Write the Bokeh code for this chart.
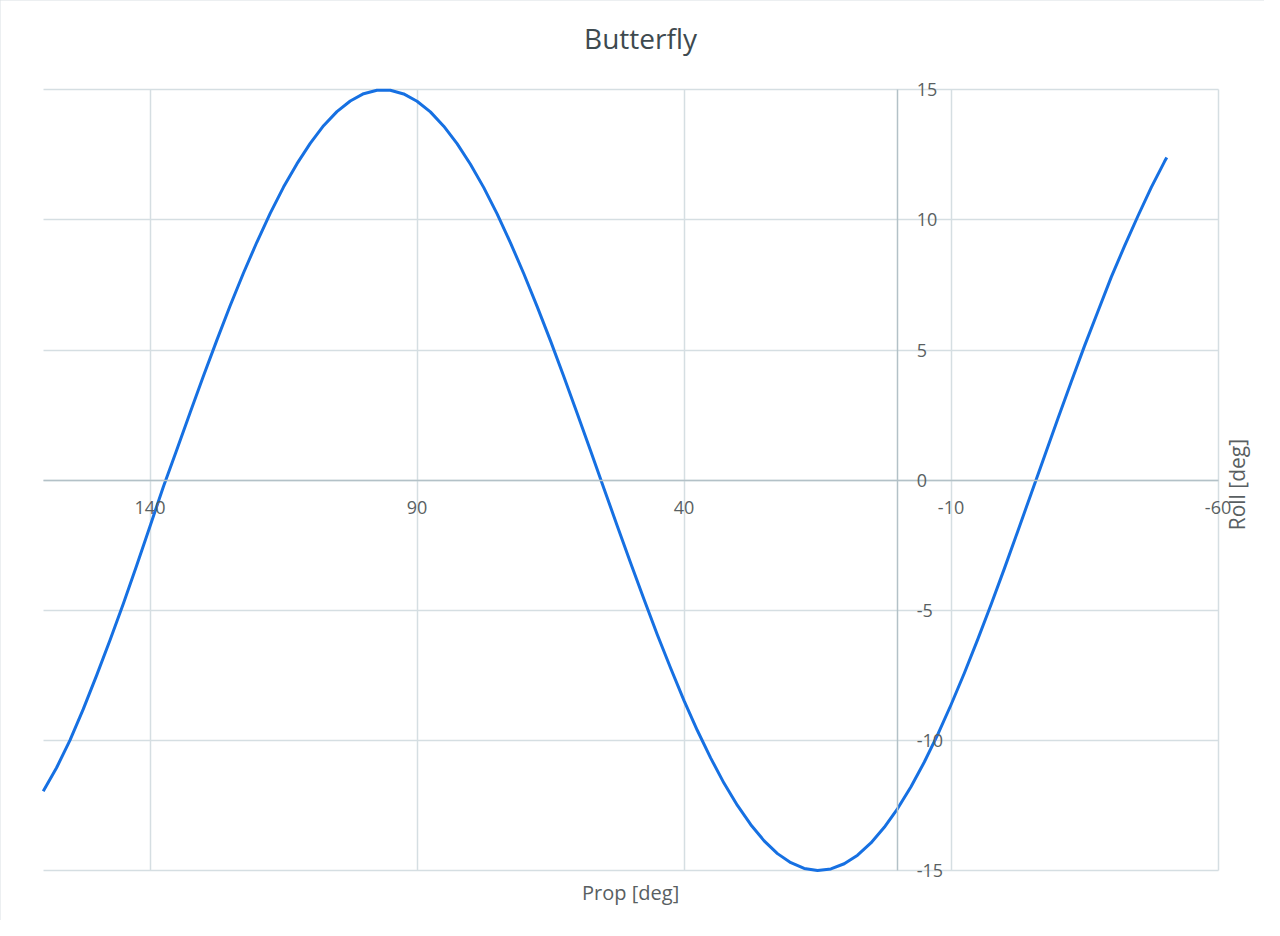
from math import pi
from bokeh.plotting import figure
from bokeh.models import LinearAxis, FixedTicker, Grid, Label, Range1d, ColumnDataSource
from bokeh.embed import file_html
from bokeh.resources import INLINE

# ---- data ----
title_text = "Butterfly"
x_label = "Prop [deg]"
y_label = "Roll [deg]"

prop_deg = [160, 157.5, 155, 152.5, 150, 147.5, 145, 142.5, 140, 137.5,
            135, 132.5, 130, 127.5, 125, 122.5, 120, 117.5, 115, 112.5,
            110, 107.5, 105, 102.5, 100, 97.5, 95, 92.5, 90, 87.5,
            85, 82.5, 80, 77.5, 75, 72.5, 70, 67.5, 65, 62.5,
            60, 57.5, 55, 52.5, 50, 47.5, 45, 42.5, 40, 37.5,
            35, 32.5, 30, 27.5, 25, 22.5, 20, 17.5, 15, 12.5,
            10, 7.5, 5, 2.5, 0, -2.5, -5, -7.5, -10, -12.5,
            -15, -17.5, -20, -22.5, -25, -27.5, -30, -32.5, -35, -37.5,
            -40, -42.5, -45, -47.5, -50, -50.4]
roll_deg = [-11.95, -11.05, -10.0, -8.8, -7.5, -6.15, -4.75, -3.28, -1.77, -0.25,
            1.16, 2.59, 4.0, 5.37, 6.7, 7.96, 9.14, 10.25, 11.26, 12.15,
            12.94, 13.62, 14.16, 14.57, 14.85, 14.98, 14.98, 14.84, 14.56, 14.15,
            13.6, 12.93, 12.14, 11.24, 10.23, 9.12, 7.93, 6.67, 5.35, 3.97,
            2.56, 1.13, -0.32, -1.76, -3.18, -4.58, -5.94, -7.23, -8.47, -9.62,
            -10.68, -11.65, -12.5, -13.24, -13.86, -14.35, -14.7, -14.92, -15.0, -14.94,
            -14.74, -14.41, -13.94, -13.34, -12.62, -11.78, -10.83, -9.78, -8.63, -7.41,
            -6.12, -4.78, -3.39, -1.96, -0.52, 0.92, 2.36, 3.77, 5.16, 6.48,
            7.8, 9.0, 10.15, 11.25, 12.25, 12.4]

x_ticks = [140, 90, 40, -10, -60]
y_ticks = [-15, -10, -5, 0, 5, 10, 15]
x_bounds = (-60, 160)
y_bounds = (-15, 15)

FONT = "Open Sans"
GRID = "#d5dee2"
AXIS = "#b3c1c7"
TICK_TXT = "#595f62"
TITLE_TXT = "#3e4a4f"
LINE = "#1670e2"

# frame covers the whole canvas; the data region sits inside it like the original chart
p = figure(width=1264, height=920,
           x_range=Range1d(168.0, -68.7), y_range=Range1d(-16.92, 18.43),
           x_axis_location=None, y_axis_location=None, title_location=None,
           toolbar_location=None, output_backend="svg",
           min_border_left=0, min_border_right=0,
           min_border_top=0, min_border_bottom=0)
p.center = [r for r in p.center if not isinstance(r, Grid)]
p.outline_line_color = None
p.background_fill_color = "white"
p.border_fill_color = "white"
p.styles = {"outline": "1px solid #d9dfe2", "outline-offset": "-1px"}

# grid lines limited to the data region
if "cross_bounds" in Grid.properties():
    xgrid = Grid(dimension=0, ticker=FixedTicker(ticks=x_ticks), cross_bounds=y_bounds,
                 grid_line_color=GRID, grid_line_width=1.5)
    ygrid = Grid(dimension=1, ticker=FixedTicker(ticks=y_ticks), cross_bounds=x_bounds,
                 grid_line_color=GRID, grid_line_width=1.5)
    p.add_layout(xgrid)
    p.add_layout(ygrid)
else:
    p.segment(x0=x_ticks, y0=[y_bounds[0]] * len(x_ticks), x1=x_ticks,
              y1=[y_bounds[1]] * len(x_ticks), line_color=GRID, line_width=1.5)
    p.segment(x0=[x_bounds[0]] * len(y_ticks), y0=y_ticks,
              x1=[x_bounds[1]] * len(y_ticks), y1=y_ticks, line_color=GRID, line_width=1.5)

# axes crossing at zero
xaxis = LinearAxis(fixed_location=0, ticker=FixedTicker(ticks=x_ticks), bounds=x_bounds,
                   major_label_overrides={t: str(t) for t in x_ticks})
yaxis = LinearAxis(fixed_location=0, ticker=FixedTicker(ticks=y_ticks), bounds=y_bounds,
                   major_label_overrides={t: str(t) for t in y_ticks})
for ax in (xaxis, yaxis):
    ax.axis_line_color = AXIS
    ax.axis_line_width = 1.5
    ax.major_tick_line_color = None
    ax.minor_tick_line_color = None
    ax.major_tick_in = 0
    ax.major_tick_out = 0
    ax.major_label_text_font = FONT
    ax.major_label_text_font_size = "18px"
    ax.major_label_text_color = TICK_TXT
xaxis.major_label_standoff = 21
yaxis.major_label_standoff = 19
p.add_layout(xaxis, "below")
p.add_layout(yaxis, "right")

# curve
src = ColumnDataSource(data=dict(x=prop_deg, y=roll_deg))
p.line("x", "y", source=src, line_color=LINE, line_width=3, line_join="round")

# texts
t1 = Label(x=48.15, y=16.97, text=title_text, text_align="center",
           text_baseline="alphabetic", text_font=FONT, text_font_size="28px",
           text_color=TITLE_TXT)
t2 = Label(x=50.0, y=-15.84, text=x_label, text_align="center",
           text_baseline="alphabetic", text_font=FONT, text_font_size="20px",
           text_color=TICK_TXT)
t3 = Label(x=-63.46, y=-0.17, text=y_label, angle=pi / 2, text_align="center",
           text_baseline="alphabetic", text_font=FONT, text_font_size="21px",
           text_color=TICK_TXT)
for t in (t1, t2, t3):
    p.add_layout(t)

open("out.html", "w").write(file_html(p, INLINE))
